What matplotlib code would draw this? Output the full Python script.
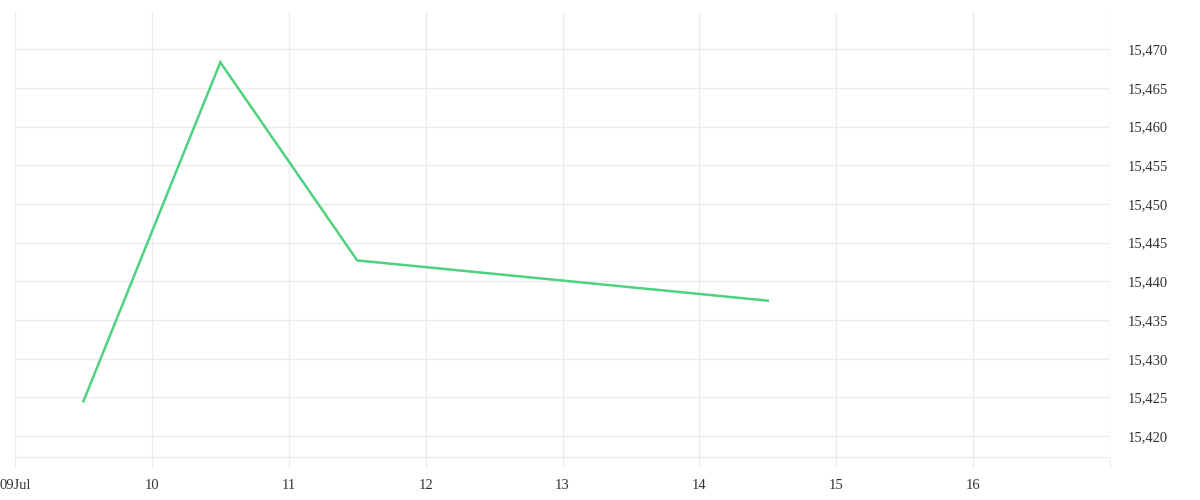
import datetime as dt
import matplotlib
matplotlib.use("Agg")
import matplotlib.pyplot as plt
import matplotlib.dates as mdates
from matplotlib.ticker import FuncFormatter

# series values (noon of each trading day)
dates = [dt.datetime(2024, 7, 9, 12), dt.datetime(2024, 7, 10, 12),
         dt.datetime(2024, 7, 11, 12), dt.datetime(2024, 7, 14, 12)]
values = [15424.5, 15468.3, 15442.7, 15437.5]

tick_days = [dt.datetime(2024, 7, d) for d in range(9, 18)]
tick_labels = ["09Jul", "10", "11", "12", "13", "14", "15", "16", ""]
y_ticks = list(range(15420, 15471, 5))

plt.rcParams['font.family'] = ['Liberation Serif', 'DejaVu Serif']

fig = plt.figure(figsize=(12, 5), dpi=100)
ax = fig.add_axes([15 / 1200, 43 / 500, 1095 / 1200, 445 / 500])

grid_c = '#ececec'
ax.plot(dates, values, color='#4fd27f', linewidth=1.8, solid_joinstyle='miter')

ax.set_xlim(tick_days[0], tick_days[-1])
ax.set_ylim(15417.3, 15474.8)

ax.set_xticks(tick_days)
ax.set_xticklabels(tick_labels)
ax.set_yticks(y_ticks)
ax.yaxis.set_major_formatter(FuncFormatter(lambda v, p: f"{int(v):,}"))
ax.yaxis.tick_right()

ax.grid(True, color=grid_c, linewidth=1)
for s in ['top', 'left', 'right']:
    ax.spines[s].set_visible(False)
ax.spines['bottom'].set_color(grid_c)

ax.tick_params(axis='x', length=8, color=grid_c, labelsize=10.5, labelcolor='#333333', pad=7.5)
ax.tick_params(axis='y', length=0, labelsize=10.5, labelcolor='#333333', pad=12.5)

fig.savefig("out.png", dpi=100)
